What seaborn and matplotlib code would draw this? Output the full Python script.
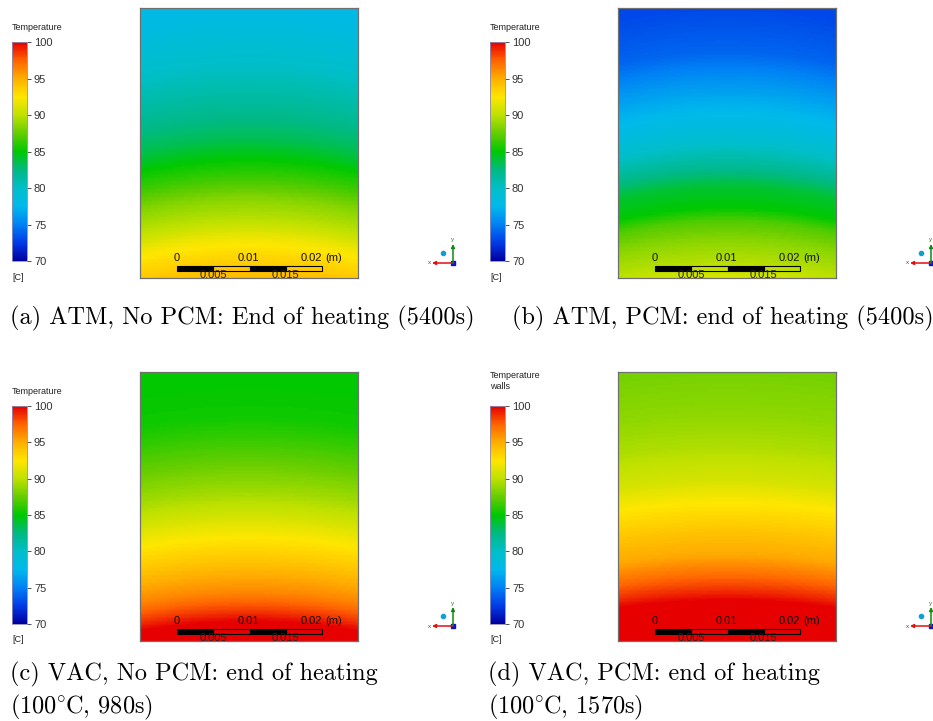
import numpy as np
import matplotlib
matplotlib.use("Agg")
import matplotlib.pyplot as plt
from matplotlib.colors import LinearSegmentedColormap
from matplotlib.patches import Rectangle
import seaborn as sns

# ---- temperature legend [C] ----
temp_min, temp_max = 70, 100
legend_ticks = [70, 75, 80, 85, 90, 95, 100]
scale_stops = [70, 72.5, 75, 77.5, 80, 82.5, 85, 87.5, 90, 92.5, 95, 97.5, 100]
scale_colors = ["#0000a0", "#003ce6", "#0082f5", "#00b9eb", "#00bec8", "#00b982",
                "#00c800", "#64cd00", "#bee100", "#ffe600", "#ffaf00", "#ff6400",
                "#e60000"]

# ---- centre-line temperature profiles (height: 0 = heated base, 1 = top) ----
height_a = [0.00, 0.09, 0.14, 0.21, 0.29, 0.37, 0.44, 0.51, 0.66, 0.84, 1.00]
temp_a = [94.5, 93.0, 92.0, 90.0, 88.5, 86.5, 85.0, 83.5, 81.5, 79.5, 78.0]

height_b = [0.00, 0.04, 0.14, 0.21, 0.26, 0.34, 0.41, 0.51, 0.60, 0.72, 0.84, 1.00]
temp_b = [91.0, 90.0, 88.5, 87.0, 85.0, 84.0, 82.0, 79.5, 77.8, 76.0, 74.0, 73.0]

height_c = [0.00, 0.07, 0.11, 0.18, 0.28, 0.38, 0.47, 0.55, 0.68, 0.78, 0.84, 1.00]
temp_c = [100.0, 100.0, 98.5, 96.3, 94.3, 92.5, 90.7, 89.2, 87.3, 86.0, 85.3, 85.0]

height_d = [0.00, 0.15, 0.18, 0.25, 0.32, 0.41, 0.51, 0.59, 0.72, 0.84, 1.00]
temp_d = [100.0, 100.0, 99.0, 97.0, 95.2, 94.0, 92.5, 91.0, 89.6, 88.7, 88.0]

# isotherm bowing towards the side walls (height shift at the walls)
bowing = [0.045, 0.045, 0.035, 0.03]

legend_titles = ["Temperature", "Temperature", "Temperature", "Temperature\nwalls"]
captions = [
    ["(a) ATM, No PCM: End of heating (5400s)"],
    ["(b) ATM, PCM: end of heating (5400s)"],
    ["(c) VAC, No PCM: end of heating", "(100$^{\\circ}\\hspace{-0.08}$C, 980s)"],
    ["(d) VAC, PCM: end of heating", "(100$^{\\circ}\\hspace{-0.08}$C, 1570s)"],
]

# scale bar labels [m]
bar_top_labels = ["0", "0.01", "0.02"]
bar_bottom_labels = ["0.005", "0.015"]

sns.set_style("white")
plt.rcParams["font.family"] = ["Liberation Sans", "DejaVu Sans"]
plt.rcParams["mathtext.fontset"] = "cm"

W, H = 933, 721
fig = plt.figure(figsize=(W / 100, H / 100), dpi=100)
fig.patch.set_facecolor("white")

cmap = LinearSegmentedColormap.from_list(
    "fluent",
    [((s - temp_min) / (temp_max - temp_min), c) for s, c in zip(scale_stops, scale_colors)],
)


def frac_rect(x0, y0, x1, y1):
    return [x0 / W, 1 - y1 / H, (x1 - x0) / W, (y1 - y0) / H]


# overlay in pixel units for annotations
ov = fig.add_axes([0, 0, 1, 1], zorder=10)
ov.set_xlim(0, W)
ov.set_ylim(H, 0)
ov.axis("off")

profiles = [(height_a, temp_a), (height_b, temp_b), (height_c, temp_c), (height_d, temp_d)]
# contour box: left edge, top and bottom
panel_x = [140, 618, 140, 618]
panel_top = [8, 8, 372, 372]
panel_bot = [278, 278, 641, 641]
caption_x = [10, 512, 10, 488]
caption_y = [324, 324, 680, 680]

nrows, ncols = 200, 160
u = np.linspace(-1, 1, ncols)
hgt = np.linspace(1, 0, nrows)

for i, (hs, ts) in enumerate(profiles):
    x0, y0, y1 = panel_x[i], panel_top[i], panel_bot[i]
    x1 = x0 + 218
    ax = fig.add_axes(frac_rect(x0, y0, x1, y1))
    cb_top, cb_bot = y0 + 34, y1 - 17
    cax = fig.add_axes(frac_rect(x0 - 128, cb_top, x0 - 113, cb_bot))

    h_eff = hgt[:, None] + bowing[i] * u[None, :] ** 2
    field = np.interp(h_eff, hs, ts)
    sns.heatmap(field, ax=ax, cmap=cmap, vmin=temp_min, vmax=temp_max,
                cbar=True, cbar_ax=cax, cbar_kws={"ticks": legend_ticks},
                xticklabels=False, yticklabels=False, rasterized=True)
    for sp in ax.spines.values():
        sp.set_visible(True)
        sp.set_color("#707070")
        sp.set_linewidth(0.9)

    cb = ax.collections[0].colorbar
    cb.outline.set_linewidth(0.6)
    cb.outline.set_edgecolor("#8c8cb4")
    cax.tick_params(axis="y", length=3, width=0.6, pad=2, labelsize=8,
                    colors="#333333", direction="out")
    cax.set_yticklabels([str(t) for t in legend_ticks])

    # legend title and unit
    title = legend_titles[i]
    ov.text(x0 - 128, cb_top - 14 - (11 if "\n" in title else 0), title,
            fontsize=6.5, color="#222222", ha="left", va="center", linespacing=1.3)
    ov.text(x0 - 128, cb_bot + 16, "[C]", fontsize=6.5, color="#222222",
            ha="left", va="center")

    # scale bar
    bx0, seg = 0.170, 0.1663
    by0, bh = 0.026, 0.019
    for k in range(4):
        ax.add_patch(Rectangle((bx0 + k * seg, by0), seg, bh, transform=ax.transAxes,
                               facecolor="black" if k % 2 == 0 else "none",
                               edgecolor="black", linewidth=0.8, clip_on=False))
    for lab, xf in zip(bar_top_labels, [0.170, 0.495, 0.784]):
        ax.text(xf, 0.075, lab, transform=ax.transAxes, fontsize=8,
                color="#111111", ha="center", va="center")
    ax.text(0.89, 0.075, "(m)", transform=ax.transAxes, fontsize=8,
            color="#111111", ha="center", va="center")
    for lab, xf in zip(bar_bottom_labels, [0.335, 0.665]):
        ax.text(xf, 0.010, lab, transform=ax.transAxes, fontsize=8,
                color="#222222", ha="center", va="center", clip_on=False)

    # axis triad
    tx, ty = x1 + 95, y1 - 15
    ov.annotate("", xy=(tx - 21, ty), xytext=(tx, ty),
                arrowprops=dict(arrowstyle="-|>", color="#e01010", lw=1.1,
                                mutation_scale=5, shrinkA=0, shrinkB=0))
    ov.annotate("", xy=(tx, ty - 19), xytext=(tx, ty),
                arrowprops=dict(arrowstyle="-|>", color="#108a10", lw=1.1,
                                mutation_scale=5, shrinkA=0, shrinkB=0))
    ov.plot([tx], [ty], marker="s", ms=3, color="#1010d0")
    ov.plot([tx - 10], [ty - 10], marker="o", ms=3, color="#10a0d0")
    ov.text(tx - 24, ty, "x", fontsize=4.5, color="#e01010", ha="center", va="center")
    ov.text(tx, ty - 23, "y", fontsize=4.5, color="#108a10", ha="center", va="center")

    # caption, one line at a time
    for k, line in enumerate(captions[i]):
        ov.text(caption_x[i], caption_y[i] + 33 * k, line, family="cmr10",
                fontsize=17.5, ha="left", va="baseline", color="black")

fig.savefig("out.png", dpi=100, facecolor="white")
